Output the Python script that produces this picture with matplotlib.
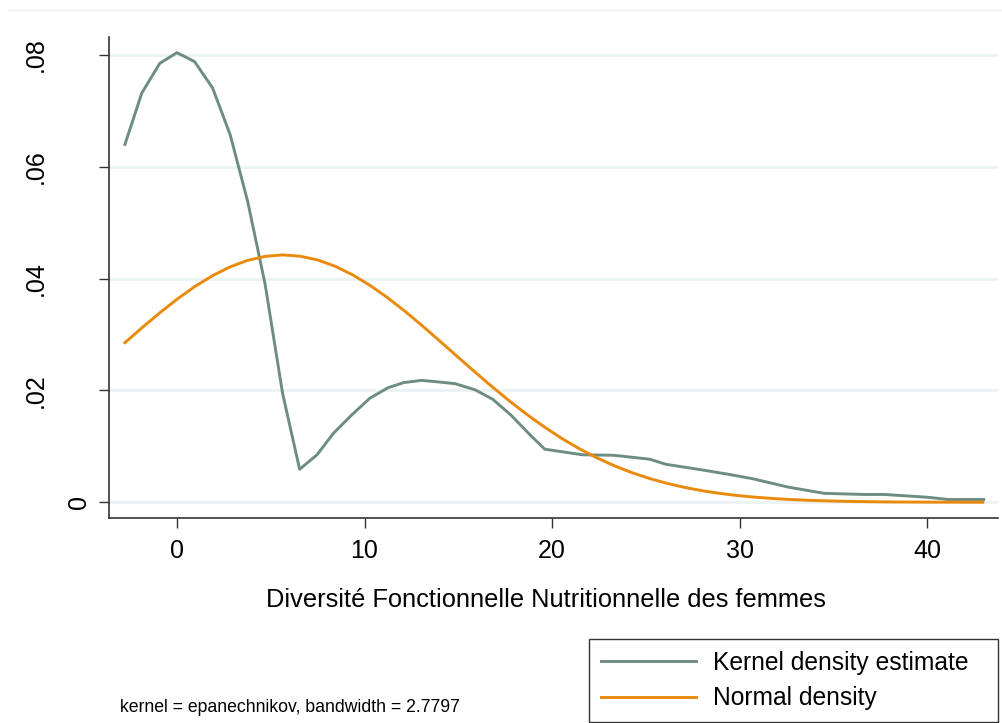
import matplotlib.pyplot as plt
from matplotlib.lines import Line2D
from matplotlib.transforms import ScaledTranslation

plt.rcParams['font.family'] = ['Liberation Sans', 'DejaVu Sans']

# kernel density estimate (epanechnikov), points along the grid
kde_x = [-2.77, -1.87, -0.91, 0.0, 0.94, 1.90, 2.84, 3.77, 4.70, 5.63,
         6.54, 7.47, 8.33, 9.31, 10.28, 11.26, 12.09, 13.04, 14.0, 14.84,
         15.9, 16.84, 17.8, 18.75, 19.6, 21.6, 23.3, 25.2, 26.05, 28.15,
         29.4, 30.7, 32.6, 34.5, 36.6, 37.7, 40.0, 41.1, 43.0]
kde_y = [0.0640, 0.0732, 0.0785, 0.0804, 0.0788, 0.0741, 0.0657, 0.0538, 0.0390, 0.0195,
         0.0059, 0.0085, 0.0123, 0.0156, 0.0186, 0.0205, 0.0214, 0.0218, 0.0215, 0.0212,
         0.0201, 0.0184, 0.0156, 0.0123, 0.0095, 0.0085, 0.0084, 0.0077, 0.0068, 0.0057,
         0.0050, 0.0042, 0.0027, 0.0016, 0.0014, 0.0014, 0.0009, 0.0005, 0.0005]

# normal density overlay
norm_x = [-2.77, -1.84, -0.90, 0.03, 0.96, 1.90, 2.83, 3.76, 4.70, 5.63,
          6.56, 7.49, 8.43, 9.36, 10.29, 11.23, 12.16, 13.09, 14.03, 14.96,
          15.89, 16.82, 17.76, 18.69, 19.62, 20.56, 21.49, 22.42, 23.36, 24.29,
          25.22, 26.15, 27.09, 28.02, 28.95, 29.89, 30.82, 31.75, 32.69, 33.62,
          34.55, 35.48, 36.42, 37.35, 38.28, 39.22, 40.15, 41.08, 42.02, 42.95]
norm_y = [0.02855, 0.03127, 0.03392, 0.03637, 0.03859, 0.04053, 0.04209, 0.04325, 0.04397, 0.04423,
          0.04401, 0.04334, 0.04221, 0.04068, 0.03879, 0.03658, 0.03414, 0.03153, 0.02878, 0.02602,
          0.02328, 0.02060, 0.01801, 0.01561, 0.01338, 0.01132, 0.00950, 0.00789, 0.00646, 0.00525,
          0.00422, 0.00336, 0.00264, 0.00205, 0.00158, 0.00120, 0.00091, 0.00068, 0.00050, 0.00036,
          0.00026, 0.00018, 0.00013, 0.00009, 0.00006, 0.00004, 0.00003, 0.00002, 0.00001, 0.00001]

xticks = [0, 10, 20, 30, 40]
yticks = [0, 0.02, 0.04, 0.06, 0.08]
ytick_labels = ['0', '.02', '.04', '.06', '.08']

kde_color = '#6e8d81'
norm_color = '#ea8a0c'
axis_color = '#333333'

fig = plt.figure(figsize=(10.03, 7.23), dpi=100)
ax = fig.add_axes([109 / 1003, 1 - 518 / 723, 889 / 1003, 481 / 723])

ax.plot(kde_x, kde_y, color=kde_color, lw=2.1, label='Kernel density estimate', zorder=3)
ax.plot(norm_x, norm_y, color=norm_color, lw=2.1, label='Normal density', zorder=3)

ax.set_xlim(-3.62, 43.76)
ax.set_ylim(-0.00281, 0.0832)

for y in yticks:
    ax.axhline(y, color='#eaf2f3', lw=2, zorder=1)

for side in ['top', 'right']:
    ax.spines[side].set_visible(False)
for side in ['left', 'bottom']:
    ax.spines[side].set_color(axis_color)
    ax.spines[side].set_linewidth(1.2)

ax.set_xticks(xticks)
ax.set_xticklabels([str(t) for t in xticks])
ax.set_yticks(yticks)
ax.set_yticklabels(ytick_labels, rotation=90, va='center')
ax.tick_params(axis='both', length=7.2, width=1, color=axis_color, labelsize=18)
ax.tick_params(axis='x', pad=8)
ax.tick_params(axis='y', pad=6)

# non-zero y labels sit further out from the axis
for lab in ax.get_yticklabels()[1:]:
    lab.set_transform(lab.get_transform() + ScaledTranslation(-0.43, 0, fig.dpi_scale_trans))

ax.set_xlabel('Diversité Fonctionnelle Nutritionnelle des femmes', fontsize=18.3, va='center')
ax.xaxis.set_label_coords(0.492, -0.1705)

leg = ax.legend(loc='upper left', bbox_to_anchor=(589 / 1003, 1 - 639 / 723 - 0.01, 409 / 1003, 0.01),
                bbox_transform=fig.transFigure, mode='expand', fontsize=17.7,
                fancybox=False, framealpha=1, edgecolor=axis_color, handlelength=3.9,
                handletextpad=0.69, borderpad=0.47, labelspacing=0.47, borderaxespad=0)
leg.get_frame().set_linewidth(1)

fig.text(120 / 1003, 1 - 707 / 723, 'kernel = epanechnikov, bandwidth = 2.7797',
         fontsize=12.7, va='center', ha='left')

# faint outline of the graph region
fig.add_artist(Line2D([8 / 1003, 1], [1 - 10 / 723] * 2, transform=fig.transFigure,
                      color='#f2f2f2', lw=1))

fig.savefig('out.png', dpi=100)
